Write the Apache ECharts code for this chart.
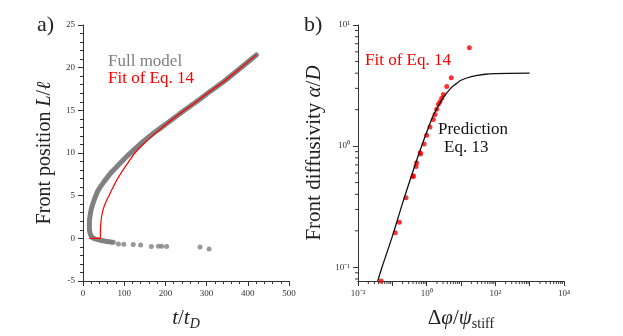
<!DOCTYPE html>
<html>
<head>
<meta charset="utf-8">
<script src="https://cdn.jsdelivr.net/npm/echarts@6/dist/echarts.min.js"></script>
<style>
  html, body { margin: 0; padding: 0; background: #fff; }
  #chart { width: 623px; height: 336px; }
</style>
</head>
<body>
<div id="chart"></div>
<script>
// panel a) full model: dense band [t/tD, L/l]
var fullModelBand = [
  [70, -0.45], [55, -0.35], [40, -0.2], [28, -0.05], [21, 0.2], [17, 0.6],
  [15.5, 1.2], [15.5, 1.9], [17, 2.6], [20, 3.4], [25, 4.2], [31, 5], [39, 5.8],
  [49, 6.5], [60, 7.2], [70, 7.8], [82, 8.4], [100, 9.3], [122, 10.3],
  [150, 11.5], [179, 12.6], [210, 13.7], [243, 14.9], [275, 16.0], [308, 17.2],
  [345, 18.5], [381, 19.9], [421, 21.5]
]
// panel a) full model: isolated points below zero
var fullModelTail = [
  [74, -0.46], [86, -0.65], [99, -0.69], [122, -0.72], [140, -0.77],
  [166, -0.96], [183, -0.93], [191, -0.93], [203, -0.97], [284, -1.03], [306, -1.26]
]
// panel a) fit of Eq. 14
var fitCurve = [
  [15, 0], [42, 0], [42.2, 0.8], [43, 1.6], [45, 2.5], [49, 3.4], [55, 4.2],
  [63, 5], [72, 5.9], [84, 7], [97, 8], [111, 9], [126, 10], [150, 11.2],
  [180, 12.5], [210, 13.7], [243, 14.9], [275, 16.0], [308, 17.2], [345, 18.5],
  [381, 19.9], [421, 21.5]
]
// panel b) fitted diffusivities [dphi/psi, alpha/D]
var fitPoints = [
  [17.5, 6.49], [5.2, 3.67], [3.84, 3.1], [3.06, 2.67], [2.74, 2.48], [2.45, 2.33],
  [2.19, 2.22], [1.96, 2.02], [1.75, 1.82], [1.56, 1.66], [1.25, 1.44], [1.0, 1.23],
  [0.84, 1.04], [0.65, 0.88], [0.66, 0.86], [0.51, 0.73], [0.49, 0.68], [0.41, 0.57],
  [0.40, 0.56], [0.25, 0.374], [0.16, 0.235], [0.122, 0.193], [0.047, 0.077]
]
// panel b) prediction Eq. 13
var predictionCurve = [
  [0.0375, 0.077], [0.05, 0.1], [0.1, 0.18], [0.2, 0.34], [0.5, 0.75], [1, 1.3],
  [1.5, 1.75], [2, 2.05], [3, 2.5], [5, 3.0], [7, 3.25], [10, 3.5], [20, 3.75],
  [50, 3.92], [100, 3.97], [1000, 4.0]
]
var xDecades = [-2, -1, 0, 1, 2, 3]
var yDecades = [-2, -1, 0]
var logMinor = [2, 3, 4, 5, 6, 7, 8, 9]

var serif = 'Liberation Serif'
var axisColor = '#333'
var textCol = '#222'
var grayCol = '#808080'

var xMinB = 0.01, xMaxB = 10000, yMinB = 0.077, yMaxB = 10

// minor tick positions for the log axes
var xMinorTicks = []
xDecades.forEach(function (d) {
  logMinor.forEach(function (k) {
    xMinorTicks.push([k * Math.pow(10, d), yMinB])
  })
})
var yMinorTicks = []
yDecades.forEach(function (d) {
  logMinor.forEach(function (k) {
    var v = k * Math.pow(10, d)
    if (v > yMinB && v < yMaxB) yMinorTicks.push([xMinB, v])
  })
})

var supMap = { '-': '\u207b', '0': '\u2070', '1': '\u00b9', '2': '\u00b2', '3': '\u00b3', '4': '\u2074' }
function powLabel(v) {
  var e = String(Math.round(Math.log10(v)))
  return '10' + e.split('').map(function (c) { return supMap[c] }).join('')
}
// x axis of panel b only labels every second decade
function powLabelEven(v) {
  var e = Math.round(Math.log10(v))
  return e % 2 === 0 ? powLabel(v) : ''
}

var tickLabel = { fontFamily: serif, fontSize: 9, color: axisColor }
var lineStyle = { color: axisColor, width: 1 }
var axisLine = { show: true, onZero: false, lineStyle: lineStyle }
var majorTick = { show: true, inside: false, length: 5, lineStyle: lineStyle }
var minorTick = { show: true, splitNumber: 5, length: 3, lineStyle: lineStyle }

function titleRich(size) {
  return {
    i: { fontFamily: serif, fontStyle: 'italic', fontSize: size, color: textCol },
    n: { fontFamily: serif, fontSize: size, color: textCol },
    si: { fontFamily: serif, fontStyle: 'italic', fontSize: 14, color: textCol, padding: [11, 0, 0, 0] },
    s: { fontFamily: serif, fontSize: 14, color: textCol, padding: [11, 0, 0, 0] }
  }
}

var myChart = echarts.init(document.getElementById('chart'))
var option = {
  animation: false,
  grid: [
    { left: 83, top: 25, width: 206, height: 262 },
    { left: 358, top: 25, width: 206, height: 262 }
  ],
  xAxis: [
    {
      gridIndex: 0, type: 'value', min: 0, max: 500, interval: 100,
      axisLine: axisLine,
      axisTick: majorTick,
      minorTick: minorTick,
      splitLine: { show: false },
      axisLabel: Object.assign({ margin: 8 }, tickLabel),
      name: '{i|t}{n|/}{i|t}{si|D}',
      nameLocation: 'middle', nameGap: 25,
      nameTextStyle: { rich: titleRich(21) }
    },
    {
      gridIndex: 1, type: 'log', logBase: 10, min: xMinB, max: xMaxB,
      axisLine: axisLine,
      axisTick: majorTick,
      splitLine: { show: false },
      axisLabel: Object.assign({ margin: 8, formatter: powLabelEven }, tickLabel),
      name: '{n|\u0394}{i|\u03c6}{n|/}{i|\u03c8}{s|stiff}',
      nameLocation: 'middle', nameGap: 25,
      nameTextStyle: { rich: titleRich(21) }
    }
  ],
  yAxis: [
    {
      gridIndex: 0, type: 'value', min: -5, max: 25, interval: 5,
      axisLine: axisLine,
      axisTick: majorTick,
      minorTick: minorTick,
      splitLine: { show: false },
      axisLabel: Object.assign({ margin: 8 }, tickLabel),
      name: '{n|Front position }{i|L}{n|/}{i|\u2113}',
      nameLocation: 'middle', nameGap: 28, nameRotate: 90,
      nameTextStyle: { rich: titleRich(20) }
    },
    {
      gridIndex: 1, type: 'log', logBase: 10, min: yMinB, max: yMaxB,
      axisLine: axisLine,
      axisTick: majorTick,
      splitLine: { show: false },
      axisLabel: Object.assign({ margin: 8, showMinLabel: false, formatter: powLabel }, tickLabel),
      name: '{n|Front diffusivity }{i|\u03b1}{n|/}{i|D}',
      nameLocation: 'middle', nameGap: 33, nameRotate: 90,
      nameTextStyle: { rich: titleRich(21) }
    }
  ],
  graphic: [
    { type: 'text', left: 37, top: 14, style: { text: 'a)', font: '22px ' + serif, fill: textCol } },
    { type: 'text', left: 304, top: 14, style: { text: 'b)', font: '22px ' + serif, fill: textCol } },
    { type: 'text', left: 108, top: 53, style: { text: 'Full model', font: '17px ' + serif, fill: grayCol } },
    { type: 'text', left: 108, top: 70, style: { text: 'Fit of Eq. 14', font: '17px ' + serif, fill: '#ff0000' } },
    { type: 'text', left: 365, top: 52, style: { text: 'Fit of Eq. 14', font: '17px ' + serif, fill: '#ff0000' } },
    { type: 'text', left: 438, top: 121, style: { text: 'Prediction', font: '17px ' + serif, fill: '#111' } },
    { type: 'text', left: 444, top: 139, style: { text: 'Eq. 13', font: '17px ' + serif, fill: '#111' } }
  ],
  series: [
    {
      name: 'Full model', type: 'line', xAxisIndex: 0, yAxisIndex: 0,
      data: fullModelBand, showSymbol: false, smooth: 0.2,
      lineStyle: { color: grayCol, width: 5, cap: 'round', join: 'round' }
    },
    {
      name: 'Full model tail', type: 'scatter', xAxisIndex: 0, yAxisIndex: 0,
      data: fullModelTail, symbolSize: 5, itemStyle: { color: grayCol }
    },
    {
      name: 'Fit of Eq. 14', type: 'line', xAxisIndex: 0, yAxisIndex: 0,
      data: fitCurve, showSymbol: false, smooth: 0.3,
      lineStyle: { color: '#ff0000', width: 1.2 }
    },
    {
      name: 'Prediction', type: 'line', xAxisIndex: 1, yAxisIndex: 1,
      data: predictionCurve, showSymbol: false, smooth: 0.3,
      lineStyle: { color: '#111', width: 1.3 }
    },
    {
      name: 'Fit points', type: 'scatter', xAxisIndex: 1, yAxisIndex: 1,
      data: fitPoints, symbolSize: 5, itemStyle: { color: '#ff0000' }
    },
    {
      // log-spaced minor ticks, x axis of panel b
      type: 'custom', xAxisIndex: 1, yAxisIndex: 1, data: xMinorTicks, silent: true, clip: false,
      renderItem: function (params, api) {
        var p = api.coord([api.value(0), api.value(1)])
        return { type: 'line', shape: { x1: p[0], y1: p[1], x2: p[0], y2: p[1] + 3 }, style: { stroke: axisColor, lineWidth: 1 } }
      }
    },
    {
      // log-spaced minor ticks, y axis of panel b
      type: 'custom', xAxisIndex: 1, yAxisIndex: 1, data: yMinorTicks, silent: true, clip: false,
      renderItem: function (params, api) {
        var p = api.coord([api.value(0), api.value(1)])
        return { type: 'line', shape: { x1: p[0] - 3, y1: p[1], x2: p[0], y2: p[1] }, style: { stroke: axisColor, lineWidth: 1 } }
      }
    }
  ]
}
myChart.setOption(option)
</script>
</body>
</html>
